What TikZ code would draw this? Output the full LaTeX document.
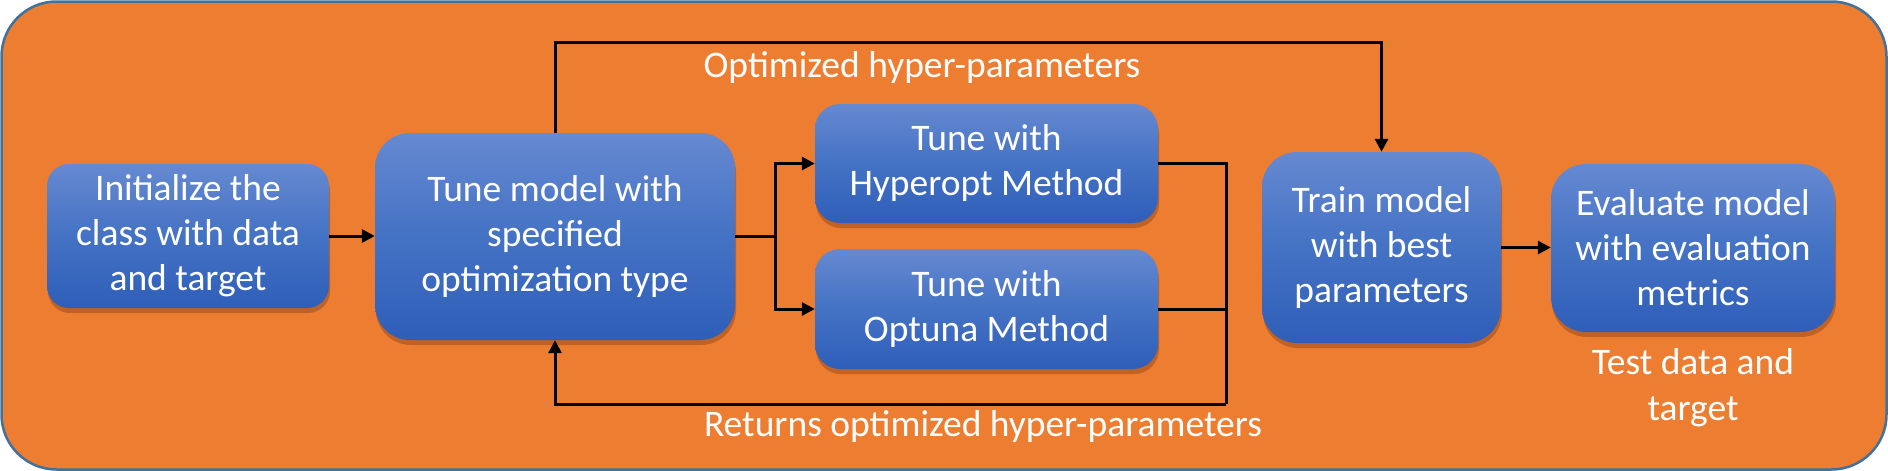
\documentclass[tikz,border=0pt]{standalone}
\usepackage{fontspec}
\setmainfont{Carlito}
\usetikzlibrary{shadows,arrows.meta}
\definecolor{bgorange}{HTML}{ED7D31}
\definecolor{bgborder}{HTML}{41719C}
\definecolor{btop}{HTML}{6689D1}
\definecolor{bmid}{HTML}{4472C4}
\definecolor{bbot}{HTML}{2F5EB9}
\definecolor{shadowc}{HTML}{7A3A10}
\begin{document}
\begin{tikzpicture}[x=1pt,y=-1pt,
  blk/.style={rectangle, rounded corners=#1, top color=btop, bottom color=bbot, middle color=bmid,
    draw=none, text=white, align=center, inner sep=0pt,
    font=\fontsize{37.5}{45}\selectfont,
    drop shadow={shadow xshift=1pt, shadow yshift=-5pt, opacity=0.4, fill=shadowc}},
  blk/.default=30pt,
  conn/.style={line width=3pt, draw=black},
  arr/.style={conn, -{Triangle[length=13pt,width=13pt]}},
  lab/.style={text=white, align=center, inner sep=0pt, font=\fontsize{37.5}{46}\selectfont}]
\useasboundingbox (0,0) rectangle (1888,471);
\fill[bgorange, draw=bgborder, line width=2.5pt, rounded corners=55pt] (1.5,1.5) rectangle (1886.5,469.5);

\node[blk=22pt, minimum width=282pt, minimum height=144pt] (init) at (188,236) {Initialize the\\class with data\\and target};
\node[blk=35pt, minimum width=360pt, minimum height=207pt] (tune) at (555,236.5) {Tune model with\\specified\\optimization type};
\node[blk=25pt, minimum width=343pt, minimum height=119pt] (hyp) at (986.5,163.5) {Tune with\\Hyperopt Method};
\node[blk=25pt, minimum width=343pt, minimum height=120pt] (opt) at (986.5,309) {Tune with\\Optuna Method};
\node[blk=35pt, minimum width=239pt, minimum height=191pt] (train) at (1381.5,247.5) {Train model\\with best\\parameters};
\node[blk=35pt, minimum width=284pt, minimum height=168pt] (eval) at (1693,248) {Evaluate model\\with evaluation\\metrics};

\node[lab] (labA) at (922,68) {Optimized hyper-parameters};
\node[lab] (labB) at (983,426) {Returns optimized hyper-parameters};
\node[lab] (labC) at (1693,388) {Test data and\\target};

\coordinate (fork) at (775,236.5);
\coordinate (merge) at (1226,404);

\draw[arr] (init.east) -- (init.east -| tune.west);
\draw[conn] (tune.east) -- (fork);
\draw[arr] (fork) |- (hyp.west);
\draw[arr] (fork) |- (opt.west);
\draw[conn] (hyp.east) -| (merge);
\draw[conn] (opt.east) -| (merge);
\draw[arr] (merge) -| (tune.south);
\draw[arr] (tune.north) -- ++(0,-90) -| (train.north);
\draw[arr] (train.east) -- (train.east -| eval.west);
\end{tikzpicture}
\end{document}
